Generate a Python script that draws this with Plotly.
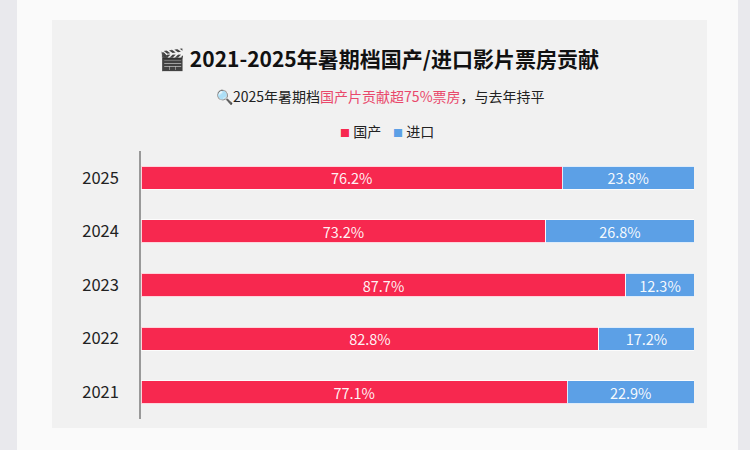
import plotly.graph_objects as go

years = ["2025", "2024", "2023", "2022", "2021"]
domestic = [76.2, 73.2, 87.7, 82.8, 77.1]
imported = [23.8, 26.8, 12.3, 17.2, 22.9]
series_names = ["国产", "进口"]

RED = "#f7284f"
BLUE = "#5ca0e6"
FONT = "Noto Sans CJK SC"

W, H = 750, 450
L, R, T, B = 141, 56, 151, 31
pw, ph = W - L - R, H - T - B


def px_x(px):
    return (px - L) / pw


def px_y(py):
    return (H - B - py) / ph


fig = go.Figure()
for name, vals, col in [(series_names[0], domestic, RED), (series_names[1], imported, BLUE)]:
    fig.add_trace(go.Bar(
        y=years, x=vals, name=name, orientation="h",
        marker=dict(color=col, line=dict(color="rgba(255,255,255,0.8)", width=1)),
        texttemplate="%{x:.1f}%", textposition="inside", insidetextanchor="middle",
        constraintext="none",
        textfont=dict(color="rgba(255,255,255,0.95)", size=14.5, family=FONT),
        hoverinfo="skip", showlegend=False,
    ))

shapes = [
    dict(type="rect", xref="paper", yref="paper", x0=px_x(0), x1=px_x(17),
         y0=px_y(450), y1=px_y(0), fillcolor="#e9e9ed", line=dict(width=0), layer="below"),
    dict(type="rect", xref="paper", yref="paper", x0=px_x(738), x1=px_x(750),
         y0=px_y(450), y1=px_y(0), fillcolor="#e9e9ed", line=dict(width=0), layer="below"),
    dict(type="rect", xref="paper", yref="paper", x0=px_x(52), x1=px_x(707),
         y0=px_y(428), y1=px_y(20), fillcolor="#f1f1f1", line=dict(width=0), layer="below"),
]

annotations = [
    dict(xref="paper", yref="paper", x=px_x(380), y=px_y(96), xanchor="center", yanchor="middle",
         showarrow=False,
         text="🔍2025年暑期档<span style='color:#e9486b'>国产片贡献超75%票房</span>，与去年持平",
         font=dict(size=14, color="#222222", family=FONT)),
    dict(xref="paper", yref="paper", x=px_x(338), y=px_y(131), xanchor="left", yanchor="middle",
         showarrow=False,
         text=f"<span style='color:{RED};font-size:10px'>■</span> {series_names[0]}",
         font=dict(size=14, color="#222222", family=FONT)),
    dict(xref="paper", yref="paper", x=px_x(391), y=px_y(131), xanchor="left", yanchor="middle",
         showarrow=False,
         text=f"<span style='color:{BLUE};font-size:10px'>■</span> {series_names[1]}",
         font=dict(size=14, color="#222222", family=FONT)),
]

fig.update_layout(
    width=W, height=H,
    margin=dict(l=L, r=R, t=T, b=B, autoexpand=False),
    barmode="stack", bargap=0.57,
    paper_bgcolor="#fafafa", plot_bgcolor="rgba(0,0,0,0)",
    font=dict(family=FONT, color="#222222"),
    showlegend=False,
    title=dict(text="<b>🎬 2021-2025年暑期档国产/进口影片票房贡献</b>",
               x=379 / W, xanchor="center", y=1 - 60 / H, yanchor="middle",
               font=dict(size=21, color="#111111", family=FONT)),
    xaxis=dict(range=[0, 100], visible=False, fixedrange=True),
    yaxis=dict(autorange="reversed", showline=True, linecolor="#999999", linewidth=1.5,
               showgrid=False, ticks="", ticklabelstandoff=17, automargin=False,
               tickfont=dict(size=16.5, color="#222222", family=FONT)),
    shapes=shapes,
    annotations=annotations,
)

fig.write_html("out.html", config={"displayModeBar": False},
               post_script="document.body.style.margin='0';document.body.style.overflow='hidden';")
